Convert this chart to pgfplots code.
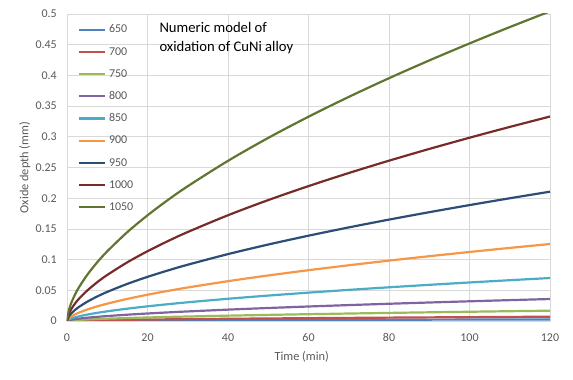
\documentclass[border=0pt]{standalone}
\usepackage{fontspec}
\setmainfont{Carlito}
\usepackage{pgfplots}
\pgfplotsset{compat=1.18}
\usepackage{pgfplotstable}
\definecolor{gridgray}{HTML}{D9D9D9}
\definecolor{labelgray}{HTML}{595959}
\definecolor{cA}{HTML}{4F81BD}
\definecolor{cB}{HTML}{C0504D}
\definecolor{cC}{HTML}{9BBB59}
\definecolor{cD}{HTML}{8064A2}
\definecolor{cE}{HTML}{4BACC6}
\definecolor{cF}{HTML}{F79646}
\definecolor{cG}{HTML}{2C4D75}
\definecolor{cH}{HTML}{772C2A}
\definecolor{cI}{HTML}{5F7530}
\pgfplotstableread{
t    s650    s700    s750    s800    s850    s900    s950    s1000   s1050
0    0       0       0       0       0       0       0       0       0
0.5  0.00010 0.00026 0.00063 0.00134 0.00261 0.00468 0.00786 0.01243 0.01882
1    0.00015 0.00040 0.00095 0.00202 0.00396 0.00709 0.01191 0.01883 0.02852
2    0.00022 0.00060 0.00144 0.00307 0.00600 0.01075 0.01805 0.02854 0.04323
3    0.00028 0.00077 0.00184 0.00391 0.00765 0.01371 0.02302 0.03641 0.05514
5    0.00039 0.00104 0.00250 0.00532 0.01040 0.01863 0.03128 0.04947 0.07491
7.5  0.00049 0.00133 0.00318 0.00678 0.01326 0.02376 0.03990 0.06309 0.09555
10   0.00059 0.00158 0.00378 0.00806 0.01576 0.02824 0.04742 0.07498 0.11355
15   0.00075 0.00201 0.00482 0.01028 0.02010 0.03601 0.06048 0.09564 0.14484
20   0.00089 0.00239 0.00573 0.01222 0.02389 0.04280 0.07187 0.11364 0.17210
25   0.00101 0.00273 0.00655 0.01397 0.02731 0.04893 0.08217 0.12992 0.19676
30   0.00113 0.00305 0.00731 0.01558 0.03047 0.05458 0.09167 0.14495 0.21951
40   0.00134 0.00362 0.00869 0.01852 0.03621 0.06487 0.10894 0.17225 0.26086
50   0.00154 0.00414 0.00994 0.02117 0.04140 0.07416 0.12454 0.19693 0.29823
60   0.00172 0.00462 0.01108 0.02362 0.04618 0.08273 0.13894 0.21970 0.33271
70   0.00188 0.00507 0.01216 0.02591 0.05066 0.09075 0.15241 0.24099 0.36496
80   0.00204 0.00549 0.01317 0.02807 0.05489 0.09833 0.16513 0.26110 0.39542
90   0.00219 0.00589 0.01414 0.03012 0.05890 0.10552 0.17721 0.28021 0.42435
100  0.00233 0.00627 0.01506 0.03209 0.06275 0.11240 0.18878 0.29849 0.45204
110  0.00247 0.00664 0.01595 0.03398 0.06644 0.11902 0.19989 0.31606 0.47865
120  0.00260 0.00700 0.01680 0.03580 0.07000 0.12540 0.21060 0.33300 0.50430
}\datatable
\begin{document}
\begin{tikzpicture}
\useasboundingbox (-67bp,-59bp) rectangle (506bp,321bp);
\begin{axis}[
  at={(0,0)}, anchor=south west,
  scale only axis, width=483bp, height=307bp,
  xmin=0, xmax=120, ymin=0, ymax=0.5,
  xtick={0,20,40,60,80,100,120},
  xticklabels={0,20,40,60,80,100,120},
  ytick={0,0.05,0.1,0.15,0.2,0.25,0.3,0.35,0.4,0.45,0.5},
  yticklabels={0,0.05,0.1,0.15,0.2,0.25,0.3,0.35,0.4,0.45,0.5},
  grid=major,
  major grid style={gridgray, line width=0.75bp},
  axis line style={gridgray, line width=0.75bp},
  tick style={draw=none},
  ticklabel style={font=\fontsize{12}{14}\selectfont, text=labelgray, inner sep=0pt},
  xticklabel style={anchor=base, yshift=-20bp},
  yticklabel style={anchor=east, xshift=-10bp},
  xlabel={Time (min)},
  ylabel={Oxide depth (mm)},
  label style={font=\fontsize{12.4}{14}\selectfont, text=labelgray, inner sep=0pt},
  xlabel style={at={(axis description cs:0.486,-0.1173)}, anchor=center},
  ylabel style={at={(axis description cs:-0.087,0.5)}, anchor=center},
  legend style={at={(axis description cs:0.0234,0.966)}, anchor=north west,
    draw=none, fill=none, inner sep=0pt, outer sep=0pt,
    font=\fontsize{12}{14}\selectfont, text=labelgray,
    nodes={inner sep=0pt, text height=8.5bp, text depth=0bp},
    row sep=13.7bp, column sep=2.5bp},
  legend cell align=left,
  legend image code/.code={\draw[#1, line width=2.2bp] (0bp,-1bp) -- (26bp,-1bp);},
  every axis plot/.append style={line width=2.2bp, no markers, smooth},
]
\addplot[cA] table[x=t, y=s650] {\datatable};
\addlegendentry{650}
\addplot[cB] table[x=t, y=s700] {\datatable};
\addlegendentry{700}
\addplot[cC] table[x=t, y=s750] {\datatable};
\addlegendentry{750}
\addplot[cD] table[x=t, y=s800] {\datatable};
\addlegendentry{800}
\addplot[cE] table[x=t, y=s850] {\datatable};
\addlegendentry{850}
\addplot[cF] table[x=t, y=s900] {\datatable};
\addlegendentry{900}
\addplot[cG] table[x=t, y=s950] {\datatable};
\addlegendentry{950}
\addplot[cH] table[x=t, y=s1000] {\datatable};
\addlegendentry{1000}
\addplot[cI] table[x=t, y=s1050] {\datatable};
\addlegendentry{1050}
\end{axis}
\node[anchor=base west, inner sep=0pt, font=\fontsize{14.7}{18}\selectfont] at (92.3bp,288.3bp) {Numeric model of};
\node[anchor=base west, inner sep=0pt, font=\fontsize{14.7}{18}\selectfont] at (92.3bp,269.7bp) {oxidation of CuNi alloy};
\end{tikzpicture}
\end{document}
